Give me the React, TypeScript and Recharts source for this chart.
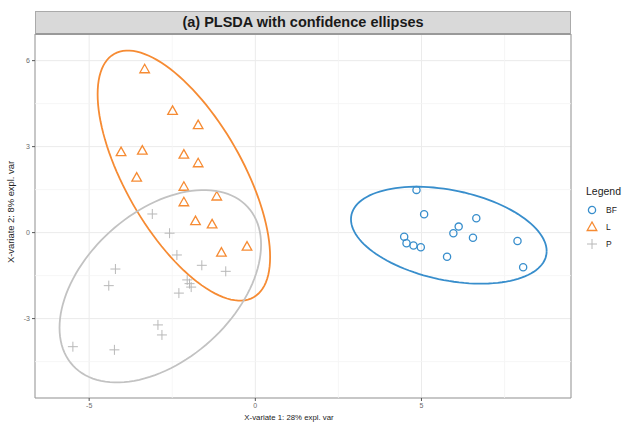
import React from "react";
import {
  ScatterChart,
  Scatter,
  XAxis,
  YAxis,
  CartesianGrid,
  ReferenceLine,
  ReferenceArea,
} from "recharts";

// group BF (blue circles)
const bfX = [4.85, 5.08, 6.65, 6.12, 5.96, 6.55, 7.89, 4.48, 4.55, 4.76, 4.98, 5.77, 8.06];
const bfY = [1.49, 0.64, 0.5, 0.21, -0.02, -0.18, -0.29, -0.14, -0.37, -0.45, -0.51, -0.84, -1.21];

// group L (orange triangles)
const lX = [-3.33, -2.49, -1.72, -4.04, -3.4, -2.15, -1.72, -3.57, -2.15, -1.16, -2.15, -1.8, -1.3, -1.02, -0.25];
const lY = [5.7, 4.25, 3.75, 2.81, 2.86, 2.72, 2.42, 1.92, 1.6, 1.26, 1.06, 0.4, 0.29, -0.7, -0.49];

// group P (grey crosses)
const pX = [-3.1, -2.58, -2.36, -1.61, -0.89, -4.21, -4.41, -2.05, -1.98, -1.93, -2.3, -2.93, -2.81, -5.49, -4.24];
const pY = [0.65, -0.02, -0.78, -1.14, -1.35, -1.27, -1.85, -1.65, -1.78, -1.9, -2.11, -3.22, -3.57, -3.98, -4.09];

const groups = ["BF", "L", "P"];
const colors = ["#388ECC", "#F68B33", "#C2C2C2"];

const xDomain = [-6.63, 9.5];
const yDomain = [-5.77, 6.93];
const xTicks = [-5, 0, 5];
const yTicks = [-3, 0, 3, 6];
const xMinor = [-2.5, 2.5, 7.5];
const yMinor = [-4.5, -1.5, 1.5, 4.5];

const toPoints = (xs: number[], ys: number[]) => xs.map((x, i) => ({ x, y: ys[i] }));

// 95% confidence ellipse from the group covariance
function ellipse(xs: number[], ys: number[], level = 0.95, n = 120) {
  const m = xs.length;
  const mx = xs.reduce((a, b) => a + b, 0) / m;
  const my = ys.reduce((a, b) => a + b, 0) / m;
  let sxx = 0, syy = 0, sxy = 0;
  for (let i = 0; i < m; i++) {
    sxx += (xs[i] - mx) ** 2;
    syy += (ys[i] - my) ** 2;
    sxy += (xs[i] - mx) * (ys[i] - my);
  }
  sxx /= m - 1;
  syy /= m - 1;
  sxy /= m - 1;
  const t = Math.sqrt(-2 * Math.log(1 - level));
  const a = Math.sqrt(sxx);
  const b = sxy / a;
  const c = Math.sqrt(syy - b * b);
  const pts = [];
  for (let i = 0; i <= n; i++) {
    const th = (2 * Math.PI * i) / n;
    const u = Math.cos(th);
    const v = Math.sin(th);
    pts.push({ x: mx + t * a * u, y: my + t * (b * u + c * v) });
  }
  return pts;
}

const Circle = (props: any) => (
  <circle cx={props.cx} cy={props.cy} r={3.6} fill="none" stroke={colors[0]} strokeWidth={1.3} />
);

const Triangle = (props: any) => {
  const { cx, cy } = props;
  return (
    <polygon
      points={`${cx},${cy - 5} ${cx - 4.8},${cy + 3.5} ${cx + 4.8},${cy + 3.5}`}
      fill="none"
      stroke={colors[1]}
      strokeWidth={1.3}
    />
  );
};

const Cross = (props: any) => {
  const { cx, cy } = props;
  return (
    <path d={`M${cx - 5},${cy}H${cx + 5}M${cx},${cy - 5}V${cy + 5}`} stroke="#B8B8B8" strokeWidth={1} />
  );
};

const NoShape = () => <g />;

const icons = [
  <circle cx={6} cy={6} r={3.6} fill="none" stroke={colors[0]} strokeWidth={1.3} />,
  <polygon points="6,1 1.2,9.5 10.8,9.5" fill="none" stroke={colors[1]} strokeWidth={1.3} />,
  <path d="M1,6H11M6,1V11" stroke="#B8B8B8" strokeWidth={1} />,
];

export default function App() {
  const font = '"Liberation Sans", Arial, sans-serif';
  return (
    <div style={{ position: "absolute", left: 0, top: 0, width: 624, height: 423, background: "#fff", fontFamily: font }}>
      <ScatterChart width={624} height={423} margin={{ top: 34, right: 53, bottom: 0, left: 5 }}>
        <CartesianGrid stroke="#EBEBEB" strokeWidth={1} />
        {xMinor.map((v) => (
          <ReferenceLine key={`vx${v}`} x={v} stroke="#F4F4F4" strokeWidth={0.8} />
        ))}
        {yMinor.map((v) => (
          <ReferenceLine key={`hy${v}`} y={v} stroke="#F4F4F4" strokeWidth={0.8} />
        ))}
        <XAxis
          type="number"
          dataKey="x"
          domain={xDomain}
          ticks={xTicks}
          allowDataOverflow
          height={25}
          axisLine={false}
          tickSize={3}
          tickLine={{ stroke: "#555" }}
          tick={{ fontSize: 7, fill: "#6b6b6b", fontFamily: font }}
          label={{ value: "X-variate 1: 28% expl. var", position: "insideBottom", offset: 3, dx: -14, fontSize: 7.8, fill: "#222", fontFamily: font }}
        />
        <YAxis
          type="number"
          dataKey="y"
          domain={yDomain}
          ticks={yTicks}
          allowDataOverflow
          width={30}
          axisLine={false}
          tickSize={3}
          tickLine={{ stroke: "#555" }}
          tick={{ fontSize: 7, fill: "#6b6b6b", fontFamily: font }}
          label={{ value: "X-variate 2: 8% expl. var", angle: -90, position: "insideLeft", offset: 6, dy: -4, fontSize: 9.4, fill: "#222", fontFamily: font, style: { textAnchor: "middle" } }}
        />
        <Scatter data={toPoints(bfX, bfY)} shape={Circle} isAnimationActive={false} />
        <Scatter data={toPoints(lX, lY)} shape={Triangle} isAnimationActive={false} />
        <Scatter data={toPoints(pX, pY)} shape={Cross} isAnimationActive={false} />
        <Scatter data={ellipse(bfX, bfY)} shape={NoShape} line={{ stroke: colors[0], strokeWidth: 1.8 }} isAnimationActive={false} />
        <Scatter data={ellipse(lX, lY)} shape={NoShape} line={{ stroke: colors[1], strokeWidth: 1.8 }} isAnimationActive={false} />
        <Scatter data={ellipse(pX, pY)} shape={NoShape} line={{ stroke: colors[2], strokeWidth: 1.8 }} isAnimationActive={false} />
        <ReferenceArea
          x1={xDomain[0]}
          x2={xDomain[1]}
          y1={yDomain[0]}
          y2={yDomain[1]}
          fill="none"
          fillOpacity={0}
          stroke="#999"
          strokeWidth={1}
          ifOverflow="visible"
        />
      </ScatterChart>

      <div
        style={{
          position: "absolute",
          left: 35,
          top: 11,
          width: 534,
          height: 21,
          background: "#D9D9D9",
          border: "1px solid #AAA",
          borderBottom: "2px solid #999",
          textAlign: "center",
          lineHeight: "21px",
          fontSize: 14.5,
          fontWeight: "bold",
          color: "#1a1a1a",
        }}
      >
        (a) PLSDA with confidence ellipses
      </div>

      <div style={{ position: "absolute", left: 586, top: 185, color: "#222" }}>
        <div style={{ fontSize: 10.5, marginBottom: 4 }}>Legend</div>
        {groups.map((g, i) => (
          <div key={g} style={{ display: "flex", alignItems: "center", height: 17, fontSize: 8.5 }}>
            <svg width={12} height={12} style={{ marginRight: 8 }}>
              {icons[i]}
            </svg>
            {g}
          </div>
        ))}
      </div>
    </div>
  );
}
